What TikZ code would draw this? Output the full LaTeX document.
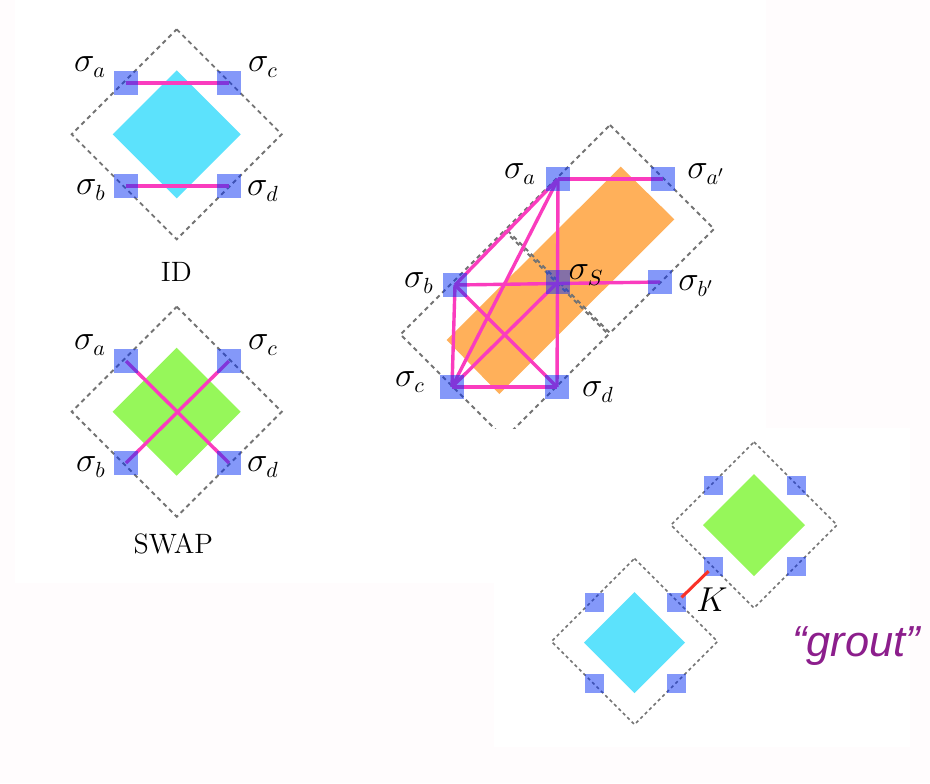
\documentclass[tikz,border=0pt]{standalone}
\usepackage{fontspec}
\newfontfamily\groutfont{Liberation Sans}
\definecolor{bgpink}{RGB}{255,252,253}
\definecolor{sqblue}{RGB}{10,50,245}
\definecolor{cyantile}{RGB}{92,226,252}
\definecolor{greentile}{RGB}{150,247,90}
\definecolor{orangetile}{RGB}{255,176,90}
\definecolor{pinkline}{RGB}{250,60,190}
\definecolor{redline}{RGB}{250,50,40}
\definecolor{groutpurple}{RGB}{140,30,140}
\definecolor{dashgray}{RGB}{115,115,115}
\pgfdeclarelayer{bglayer}
\pgfdeclarelayer{fglayer}
\pgfdeclarelayer{toplayer}
\pgfsetlayers{bglayer,main,fglayer,toplayer}
\begin{document}
\begin{tikzpicture}[x=0.5pt,y=-0.5pt,
  qsq/.style={rectangle, inner sep=0pt, minimum size=12pt, fill=sqblue, fill opacity=0.5, draw=none},
  qsqs/.style={qsq, minimum size=9.5pt},
  dashframe/.style={draw=dashgray, line width=0.95pt, dash pattern=on 2.2pt off 1.9pt},
  dashframes/.style={draw=dashgray, line width=0.75pt, dash pattern=on 1.6pt off 1.5pt},
  bond/.style={draw=pinkline, line width=1.7pt},
  lbl/.style={inner sep=0pt, font=\fontsize{16}{19}\selectfont},
  ttl/.style={inner sep=0pt, font=\fontsize{14}{16}\selectfont}
]
\useasboundingbox (0,0) rectangle (930,783);
\begin{pgfonlayer}{bglayer}
\fill[bgpink] (0,0) rectangle (930,783);
\fill[white] (15,0) rectangle (766,583);
\fill[white] (494,428) rectangle (910,747);
% ID tile
\fill[cyantile] (176.7,70.3) -- (240.7,134.3) -- (176.7,198.3) -- (112.7,134.3) -- cycle;
\draw[dashframe] (176.7,29.3) -- (281.7,134.3) -- (176.7,239.3) -- (71.7,134.3) -- cycle;
% SWAP tile
\fill[greentile] (176.7,347.7) -- (240.7,411.7) -- (176.7,475.7) -- (112.7,411.7) -- cycle;
\draw[dashframe] (176.7,306.7) -- (281.7,411.7) -- (176.7,516.7) -- (71.7,411.7) -- cycle;
% middle
\fill[orangetile] (620.7,166.7) -- (674.3,219.3) -- (499.3,394) -- (446.7,340) -- cycle;
\begin{scope}
\clip (380,100) rectangle (766,428);
\draw[dashframe] (610,125) -- (714,229) -- (610,333) -- (506,229) -- cycle;
\draw[dashframe] (504.5,230.5) -- (608.5,334.5) -- (504.5,438.5) -- (400.5,334.5) -- cycle;
\end{scope}
% bottom right tiles
\fill[greentile] (754,474) -- (805,525) -- (754,576) -- (703,525) -- cycle;
\draw[dashframes] (754,442) -- (837,525) -- (754,608) -- (671,525) -- cycle;
\fill[cyantile] (634.5,592) -- (685,642.5) -- (634.5,693) -- (584,642.5) -- cycle;
\draw[dashframes] (634.5,558.5) -- (717.5,641.5) -- (634.5,724.5) -- (551.5,641.5) -- cycle;
\end{pgfonlayer}

\begin{pgfonlayer}{fglayer}
% ID
\node[qsq] (ia) at (126,83) {};
\node[qsq] (ic) at (229,83) {};
\node[qsq] (ib) at (126,186) {};
\node[qsq] (id) at (229,186) {};
% SWAP
\node[qsq] (sa) at (126,361) {};
\node[qsq] (sc) at (229,361) {};
\node[qsq] (sb) at (126,463) {};
\node[qsq] (sd) at (229,463) {};
% middle
\node[qsq] (ma) at (558,179) {};
\node[qsq] (map) at (663,179) {};
\node[qsq] (mb) at (455,285) {};
\node[qsq] (ms) at (558,282) {};
\node[qsq] (mbp) at (660,282) {};
\node[qsq] (mc) at (452,387) {};
\node[qsq] (md) at (557,387) {};
% bottom right
\node[qsqs] (g1) at (713.5,485.3) {};
\node[qsqs] (g2) at (796.5,485.3) {};
\node[qsqs] (g3) at (713.5,566.3) {};
\node[qsqs] (g4) at (796.5,566.3) {};
\node[qsqs] (c1) at (594.5,602.3) {};
\node[qsqs] (c2) at (676.5,602.3) {};
\node[qsqs] (c3) at (594.5,683.3) {};
\node[qsqs] (c4) at (676.5,683.3) {};
\end{pgfonlayer}

% bonds
\draw[bond] (ia.center) -- (ic.center);
\draw[bond] (ib.center) -- (id.center);
\draw[bond] (sa.center) -- (sd.center);
\draw[bond] (sc.center) -- (sb.center);
\draw[bond] (ma.center) -- (map.center);
\draw[bond] (ma.center) -- (mb.center);
\draw[bond] (ma.center) -- (mc.center);
\draw[bond] (ma.center) -- (md.center);
\draw[bond] (mb.center) -- (mbp.center);
\draw[bond] (mb.center) -- (mc.center);
\draw[bond] (mb.center) -- (md.center);
\draw[bond] (mc.center) -- (ms.center);
\draw[bond] (mc.center) -- (md.center);

\begin{pgfonlayer}{toplayer}
\draw[draw=redline, line width=1.5pt, shorten <=3.5pt, shorten >=3.5pt] (c2.center) -- (g3.center);
\end{pgfonlayer}

% labels
\node[lbl] (lia) at (90,67) {$\sigma_a$};
\node[lbl] (lic) at (263,67) {$\sigma_c$};
\node[lbl] (lib) at (91,190) {$\sigma_b$};
\node[lbl] (lid) at (263,191) {$\sigma_d$};
\node[ttl] (tid) at (176.3,271.5) {ID};
\node[lbl] (lsa) at (90,345) {$\sigma_a$};
\node[lbl] (lsc) at (263,345) {$\sigma_c$};
\node[lbl] (lsb) at (91,467) {$\sigma_b$};
\node[lbl] (lsd) at (263,467) {$\sigma_d$};
\node[ttl] (tswap) at (173.3,544) {SWAP};
\node[lbl] (lma) at (520,174) {$\sigma_a$};
\node[lbl] (lmap) at (706,174) {$\sigma_{a'}$};
\node[lbl] (lmb) at (419,283) {$\sigma_b$};
\node[lbl] (lms) at (586,275) {$\sigma_S$};
\node[lbl] (lmbp) at (696,286) {$\sigma_{b'}$};
\node[lbl] (lmc) at (410,382) {$\sigma_c$};
\node[lbl] (lmd) at (598,392) {$\sigma_d$};
\node[inner sep=0pt, font=\fontsize{17}{20}\selectfont] (kl) at (712,600) {$K$};
\node[inner sep=0pt, text=groutpurple, font=\fontsize{21.7}{26}\selectfont\groutfont\itshape] (grout) at (856,646.5) {“grout”};
\end{tikzpicture}
\end{document}
